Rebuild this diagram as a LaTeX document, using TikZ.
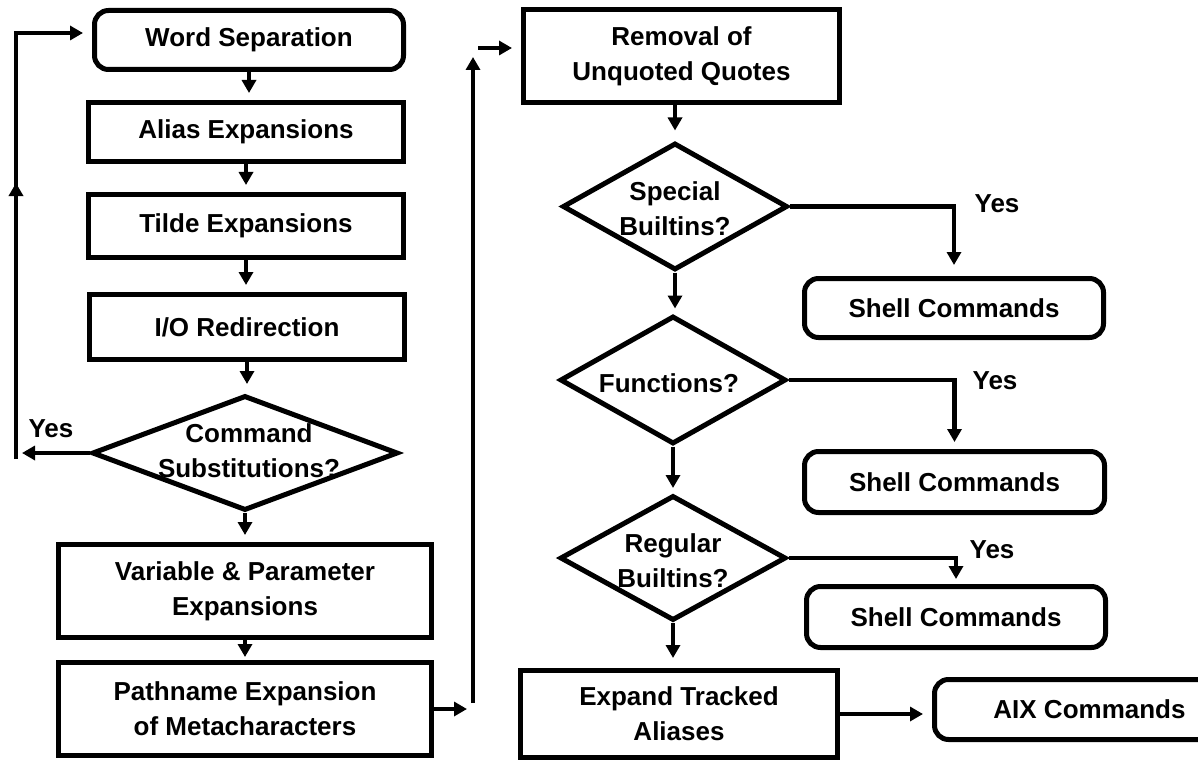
\documentclass[tikz,border=0pt]{standalone}
\usepackage{fontspec}
\setmainfont{Liberation Sans}
\usetikzlibrary{shapes.geometric,arrows.meta,decorations.markings}

\begin{document}
\begin{tikzpicture}[x=1pt,y=-1pt,
  every node/.style={font=\fontsize{26}{35}\selectfont\bfseries, align=center, inner sep=0pt},
  box/.style={draw, line width=5pt, rectangle},
  rbox/.style={draw, line width=5pt, rectangle, rounded corners=14pt},
  dec/.style={draw, line width=5pt, diamond},
  tip/.style={-{Triangle[width=14pt,length=13pt]}},
  arrow/.style={line width=4.5pt, tip},
  gap/.style={shorten >=#1},
  gap/.default=7pt,
  midtip/.style={postaction={decorate},
    decoration={markings, mark=at position #1 with {\arrow{Triangle[width=14pt,length=13pt]}}}},
]
\useasboundingbox (0,0) rectangle (1198,762);

% left column
\node[rbox, minimum width=309pt, minimum height=59pt] (ws) at (249,40) {Word Separation};
\node[box, minimum width=315pt, minimum height=59pt] (al) at (246,132) {Alias Expansions};
\node[box, minimum width=315pt, minimum height=63pt] (tl) at (246,226) {Tilde Expansions};
\node[box, minimum width=315pt, minimum height=65pt] (io) at (247,327) {I/O Redirection};
\node[dec, minimum width=306pt, minimum height=115pt] (cs) at (245,453) {};
\node (cst) at (249,451) {Command\\Substitutions?};
\node[box, minimum width=373pt, minimum height=93pt] (vp) at (245,591) {Variable \& Parameter\\Expansions};
\node[box, minimum width=373pt, minimum height=93pt] (pn) at (245,709) {Pathname Expansion\\of Metacharacters};
\node (y0) at (51,429) {Yes};

% right column
\node[box, minimum width=316pt, minimum height=93pt] (rq) at (681.5,56.5) {Removal of\\Unquoted Quotes};
\node[dec, minimum width=225pt, minimum height=127pt] (sb) at (675,206.5) {};
\node (sbt) at (675,209) {Special\\Builtins?};
\node[dec, minimum width=226pt, minimum height=128pt] (fn) at (673,380) {};
\node (fnt) at (669,383) {Functions?};
\node[dec, minimum width=226pt, minimum height=125pt] (rb) at (673,558) {};
\node (rbt) at (673,561) {Regular\\Builtins?};
\node[box, minimum width=317pt, minimum height=87pt] (ex) at (679,714) {Expand Tracked\\Aliases};

\node[rbox, minimum width=299pt, minimum height=59pt] (sc1) at (954,308) {Shell Commands};
\node[rbox, minimum width=300pt, minimum height=61pt] (sc2) at (954.5,482) {Shell Commands};
\node[rbox, minimum width=299pt, minimum height=61pt] (sc3) at (956,617) {Shell Commands};
\node[rbox, minimum width=310pt, minimum height=60pt] (aix) at (1089.5,709.5) {AIX Commands};

\node (y1) at (997,204) {Yes};
\node (y2) at (995,381) {Yes};
\node (y3) at (992,550) {Yes};

% left column flow
\draw[arrow, gap] (ws.south) -- (ws.south |- al.north);
\draw[arrow, gap] (al.south) -- (al.south |- tl.north);
\draw[arrow, gap] (tl.south) -- (tl.south |- io.north);
\draw[arrow, gap=9pt] (io.south) -- (io.south |- cs.north);
\draw[arrow, gap] (cs.south) -- (cs.south |- vp.north);
\draw[arrow, gap=3pt] (vp.south) -- (vp.south |- pn.north);

% loop back to word separation
\coordinate (ya) at (22,453);
\coordinate (yb) at (16,459);
\coordinate (yc) at (16,33);
\draw[arrow] (cs.west) -- (ya);
\draw[arrow, gap=9pt, midtip=276pt] (yb) -- (yc) -- (ws.west |- yc);

% hand-over to the right column
\coordinate (m1) at (467,709);
\coordinate (m2) at (473,703);
\coordinate (m3) at (473,57);
\coordinate (m4) at (478,48);
\draw[arrow] (pn.east) -- (m1);
\draw[arrow] (m2) -- (m3);
\draw[arrow, gap=9pt] (m4) -- (rq.west |- m4);

% right column flow
\draw[arrow, gap=10pt] (sb.north |- rq.south) -- (sb.north);
\draw[arrow, gap=5pt] (sb.south) -- (sb.south |- fn.north);
\draw[arrow, gap=5pt] (fn.south) -- (fn.south |- rb.north);
\draw[arrow, gap=10pt] (rb.south) -- (rb.south |- ex.north);
\draw[arrow, gap=9pt] (ex.east) -- (ex.east -| aix.west);

% yes branches
\draw[arrow, gap=11pt] (sb.east) -| (sc1.north);
\draw[arrow, gap=7pt] (fn.east) -| (sc2.north);
\draw[arrow, gap=5pt] (rb.east) -| (sc3.north);
\end{tikzpicture}
\end{document}
